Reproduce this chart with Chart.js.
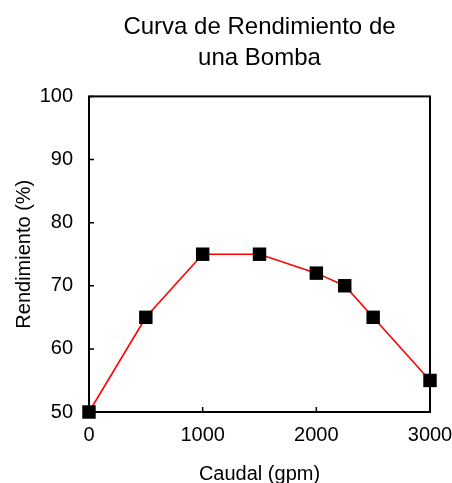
<!DOCTYPE html>
<html>
<head>
<meta charset="utf-8">
<script src="https://cdn.jsdelivr.net/npm/chart.js@4.4.0/dist/chart.umd.min.js"></script>
<style>
  body { margin: 0; background: #fff; }
</style>
</head>
<body>
<canvas id="myChart" width="452" height="483"></canvas>
<script>
  const caudal = [0, 500, 1000, 1500, 2000, 2250, 2500, 3000];
  const rendimiento = [50, 65, 75, 75, 72, 70, 65, 55];
  const titleLines = ['Curva de Rendimiento de', 'una Bomba'];

  // marco completo y marcas hacia adentro, como en el original
  const frame = {
    id: 'frame',
    afterLayout(chart) {
      // titulo centrado sobre el area del grafico
      if (chart.titleBlock) {
        chart.titleBlock.left = chart.chartArea.left;
        chart.titleBlock.right = chart.chartArea.right;
      }
    },
    beforeDatasetsDraw(chart) {
      const {ctx, chartArea: a, scales} = chart;
      ctx.save();
      ctx.strokeStyle = '#000';
      ctx.lineWidth = 2;
      ctx.strokeRect(a.left, a.top, a.right - a.left, a.bottom - a.top);
      ctx.lineWidth = 1.5;
      ctx.beginPath();
      scales.x.ticks.forEach(t => {
        const px = scales.x.getPixelForValue(t.value);
        ctx.moveTo(px, a.bottom);
        ctx.lineTo(px, a.bottom - 5);
      });
      scales.y.ticks.forEach(t => {
        const py = scales.y.getPixelForValue(t.value);
        ctx.moveTo(a.left, py);
        ctx.lineTo(a.left + 5, py);
      });
      ctx.stroke();
      ctx.restore();
    }
  };

  const font = 'Liberation Sans, Arial, sans-serif';

  const data = {
    datasets: [{
      data: caudal.map((c, i) => ({x: c, y: rendimiento[i]})),
      borderColor: '#ff0000',
      borderWidth: 1.6,
      pointStyle: 'rect',
      pointRadius: 9.5,
      pointBackgroundColor: '#000',
      pointBorderColor: '#000',
      pointBorderWidth: 0,
      clip: false,
    }]
  };

  const config = {
    type: 'line',
    data: data,
    plugins: [frame],
    options: {
      responsive: false,
      animation: false,
      layout: {
        padding: {left: 0, right: 0, top: 0, bottom: 0}
      },
      scales: {
        x: {
          type: 'linear',
          min: 0,
          max: 3000,
          ticks: {
            stepSize: 1000,
            color: '#000',
            padding: 3,
            font: {family: font, size: 20},
            callback: (v) => String(v),
          },
          grid: {display: false},
          border: {display: false},
          title: {
            display: true,
            text: 'Caudal (gpm)',
            color: '#000',
            font: {family: font, size: 20},
            padding: {top: 14, bottom: -3},
          },
          afterFit: (scale) => {
            scale.height = 71;
            scale.paddingRight = 22;
          },
        },
        y: {
          min: 50,
          max: 100,
          ticks: {
            stepSize: 10,
            color: '#000',
            padding: 8,
            font: {family: font, size: 20},
          },
          grid: {display: false},
          border: {display: false},
          title: {
            display: true,
            text: 'Rendimiento (%)',
            color: '#000',
            font: {family: font, size: 20},
            padding: {top: 12, bottom: 0},
          },
          afterFit: (scale) => { scale.width = 89; },
        }
      },
      plugins: {
        legend: {display: false},
        tooltip: {enabled: false},
        title: {
          display: true,
          text: titleLines,
          color: '#000',
          font: {family: font, size: 24, weight: 'normal', lineHeight: 1.3},
          padding: {top: 12, bottom: 22},
        },
      },
    },
  };

  const myChart = new Chart(
    document.getElementById('myChart'),
    config
  );
</script>
</body>
</html>
